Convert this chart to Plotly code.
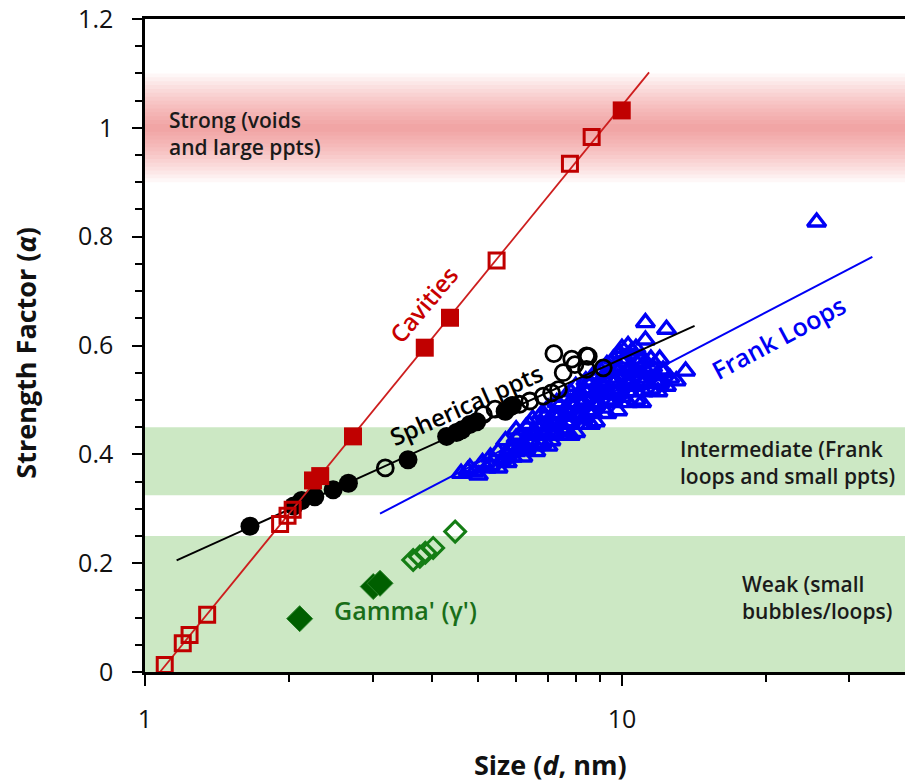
import plotly.graph_objects as go

# ---------------- data ----------------
cav_open_x = [1.10, 1.20, 1.24, 1.35, 1.92, 1.99, 2.04, 5.46, 7.78, 8.64]
cav_open_y = [0.013, 0.053, 0.068, 0.105, 0.272, 0.287, 0.298, 0.756, 0.934, 0.983]
cav_fill_x = [2.25, 2.33, 2.73, 3.86, 4.36, 9.99]
cav_fill_y = [0.352, 0.360, 0.433, 0.596, 0.651, 1.032]
cav_fit_x = [1.075, 11.4]
cav_fit_y = [0.0, 1.102]

sph_fill_x = [1.66, 2.05, 2.13, 2.27, 2.48, 2.67, 3.56, 4.29, 4.50, 4.62, 4.80, 4.96, 5.69, 5.85]
sph_fill_y = [0.268, 0.305, 0.315, 0.322, 0.335, 0.347, 0.390, 0.433, 0.440, 0.445, 0.455, 0.460, 0.479, 0.488]
sph_open_x = [3.19, 5.12, 5.42, 5.90, 6.10, 6.41, 6.84, 7.12, 7.36, 7.53, 7.85, 7.97, 8.43, 8.50, 9.14, 7.20, 8.43]
sph_open_y = [0.375, 0.473, 0.483, 0.490, 0.492, 0.498, 0.507, 0.513, 0.519, 0.550, 0.575, 0.565, 0.581, 0.580, 0.559, 0.585, 0.556]
sph_fit_x = [1.165, 14.2]
sph_fit_y = [0.205, 0.636]

frank_x = [4.6, 4.75, 4.9, 5.0,
           4.8, 5.2, 5.5,
           5.1, 5.3, 5.6, 5.75, 5.9,
           5.3, 5.75, 6.2,
           5.5, 5.8, 6.0, 6.3, 6.6,
           5.9, 6.2, 6.6, 7.0,
           5.7, 6.0, 6.2, 6.4, 6.8, 7.1,
           6.1, 6.5, 6.9, 7.4, 7.8,
           6.0, 6.3, 6.5, 6.7, 7.0, 7.2, 7.6, 8.0,
           6.4, 6.8, 7.2, 7.7, 8.2, 8.6,
           6.5, 6.9, 7.1, 7.3, 7.6, 7.8, 8.1, 8.3, 8.8,
           6.8, 7.2, 7.7, 8.2, 8.7, 9.3,
           7.0, 7.4, 7.7, 7.9, 8.2, 8.5, 8.8, 9.1, 9.8,
           7.3, 7.8, 8.3, 8.9, 9.6, 10.3, 11.0,
           7.6, 8.1, 8.4, 8.7, 9.0, 9.3, 9.7, 10.0, 10.7,
           7.8, 8.4, 9.0, 9.6, 10.3, 11.1, 11.9,
           8.0, 8.3, 8.6, 8.9, 9.2, 9.6, 9.9, 10.3, 10.6, 11.0, 11.5, 12.0, 12.4,
           8.4, 9.0, 9.7, 10.4, 11.2, 12.0, 13.0,
           8.7, 9.1, 9.4, 9.8, 10.1, 10.5, 10.9, 11.3, 11.8, 12.2, 12.6, 13.6,
           9.0, 9.7, 10.4, 11.2, 12.2,
           9.3, 9.6, 10.0, 10.4, 10.8, 11.2, 11.6, 12.0,
           9.6, 10.2, 10.9, 11.5,
           9.9, 10.5, 10.0, 10.7, 10.3, 11.2,
           11.2, 12.4,
           25.6]
frank_y = [0.365, 0.370, 0.368, 0.362,
           0.375, 0.375, 0.375,
           0.385, 0.380, 0.390, 0.385, 0.395,
           0.395, 0.400, 0.395,
           0.405, 0.410, 0.405, 0.410, 0.405,
           0.415, 0.415, 0.415, 0.415,
           0.425, 0.430, 0.420, 0.425, 0.420, 0.425,
           0.435, 0.435, 0.435, 0.435, 0.435,
           0.445, 0.450, 0.440, 0.445, 0.450, 0.440, 0.445, 0.440,
           0.455, 0.455, 0.455, 0.455, 0.455, 0.455,
           0.465, 0.470, 0.460, 0.465, 0.470, 0.460, 0.470, 0.465, 0.460,
           0.475, 0.475, 0.475, 0.475, 0.475, 0.475,
           0.485, 0.490, 0.480, 0.485, 0.490, 0.480, 0.490, 0.485, 0.480,
           0.495, 0.495, 0.495, 0.495, 0.495, 0.495, 0.495,
           0.505, 0.510, 0.500, 0.505, 0.510, 0.500, 0.510, 0.505, 0.500,
           0.515, 0.515, 0.515, 0.515, 0.515, 0.515, 0.515,
           0.525, 0.520, 0.530, 0.520, 0.525, 0.530, 0.520, 0.530, 0.525, 0.530, 0.520, 0.530, 0.525,
           0.535, 0.535, 0.535, 0.535, 0.535, 0.535, 0.535,
           0.545, 0.540, 0.550, 0.540, 0.545, 0.550, 0.540, 0.550, 0.545, 0.550, 0.540, 0.553,
           0.555, 0.555, 0.555, 0.555, 0.555,
           0.565, 0.560, 0.570, 0.560, 0.565, 0.570, 0.560, 0.575,
           0.575, 0.575, 0.575, 0.575,
           0.585, 0.590, 0.595, 0.595, 0.600, 0.610,
           0.642, 0.630,
           0.827]
frank_fit_x = [3.11, 33.5]
frank_fit_y = [0.291, 0.763]

gamma_fill_x = [2.11, 3.01, 3.11]
gamma_fill_y = [0.098, 0.157, 0.163]
gamma_open_x = [3.65, 3.77, 3.87, 4.02, 4.47]
gamma_open_y = [0.206, 0.212, 0.219, 0.228, 0.258]

strong_band = (1.0, 0.10)          # centre, half-width
intermediate_band = (0.325, 0.45)
weak_band = (0.0, 0.25)

y_ticks = [0, 0.2, 0.4, 0.6, 0.8, 1.0, 1.2]
y_ticktext = ["0", "0.2", "0.4", "0.6", "0.8", "1", "1.2"]
x_ticks = [1, 10]
x_ticktext = ["1", "10"]
x_minor = [2, 3, 4, 5, 6, 7, 8, 9, 20, 30]

FONT = "Open Sans"
RED = "rgb(192,0,0)"
RED_LINE = "rgb(205,30,30)"
BLUE = "rgb(0,0,245)"
GREEN_D = "rgb(0,95,0)"
GREEN = "rgb(20,125,20)"

fig = go.Figure()

# Frank loops
fig.add_trace(go.Scatter(x=frank_x, y=frank_y, mode="markers",
                         marker=dict(symbol="triangle-up-open", size=16, color=BLUE,
                                     line=dict(width=3.4, color=BLUE))))
fig.add_trace(go.Scatter(x=frank_fit_x, y=frank_fit_y, mode="lines",
                         line=dict(color=BLUE, width=2)))
# Spherical ppts
fig.add_trace(go.Scatter(x=sph_fit_x, y=sph_fit_y, mode="lines",
                         line=dict(color="black", width=2)))
fig.add_trace(go.Scatter(x=sph_open_x, y=sph_open_y, mode="markers",
                         marker=dict(symbol="circle-open", size=16, color="black",
                                     line=dict(width=2.8, color="black"))))
fig.add_trace(go.Scatter(x=sph_fill_x, y=sph_fill_y, mode="markers",
                         marker=dict(symbol="circle", size=19, color="black")))
# Cavities
fig.add_trace(go.Scatter(x=cav_fit_x, y=cav_fit_y, mode="lines",
                         line=dict(color=RED_LINE, width=1.8)))
fig.add_trace(go.Scatter(x=cav_open_x, y=cav_open_y, mode="markers",
                         marker=dict(symbol="square-open", size=15, color=RED,
                                     line=dict(width=3, color=RED))))
fig.add_trace(go.Scatter(x=cav_fill_x, y=cav_fill_y, mode="markers",
                         marker=dict(symbol="square", size=18, color=RED)))
# Gamma'
fig.add_trace(go.Scatter(x=gamma_fill_x, y=gamma_fill_y, mode="markers",
                         marker=dict(symbol="diamond", size=20, color=GREEN_D,
                                     line=dict(width=1, color="rgb(40,130,40)"))))
fig.add_trace(go.Scatter(x=gamma_open_x, y=gamma_open_y, mode="markers",
                         marker=dict(symbol="diamond-open", size=16, color=GREEN,
                                     line=dict(width=3, color=GREEN))))

# background bands
shapes = []
n_layers = 14
c, hw = strong_band
for i in range(n_layers):
    h = hw * (1 - i / n_layers)
    shapes.append(dict(type="rect", xref="paper", yref="y", x0=0, x1=1,
                       y0=c - h, y1=c + h, fillcolor="rgb(225,80,80)",
                       opacity=0.045, line=dict(width=0), layer="below"))
for lo, hi in (intermediate_band, weak_band):
    shapes.append(dict(type="rect", xref="paper", yref="y", x0=0, x1=1,
                       y0=lo, y1=hi, fillcolor="rgb(204,232,196)",
                       line=dict(width=0), layer="below"))

band_font = dict(family=FONT, size=21, color="#1a1a1a", weight=600)
annotations = [
    dict(text="Strong (voids<br>and large ppts)", x=0.046, y=0.99, xref="x", yref="y",
         xanchor="left", yanchor="middle", align="left", showarrow=False, font=band_font),
    dict(text="Intermediate (Frank<br>loops and small ppts)", x=1.117, y=0.385, xref="x", yref="y",
         xanchor="left", yanchor="middle", align="left", showarrow=False, font=band_font),
    dict(text="Weak (small<br>bubbles/loops)", x=1.247, y=0.136, xref="x", yref="y",
         xanchor="left", yanchor="middle", align="left", showarrow=False, font=band_font),
    dict(text="Cavities", x=0.583, y=0.676, xref="x", yref="y", textangle=-50,
         showarrow=False, font=dict(family=FONT, size=24, color="rgb(200,0,0)", weight=600)),
    dict(text="Spherical ppts", x=0.673, y=0.492, xref="x", yref="y", textangle=-24,
         showarrow=False, font=dict(family=FONT, size=24, color="black", weight=600)),
    dict(text="Frank Loops", x=1.329, y=0.615, xref="x", yref="y", textangle=-28,
         showarrow=False, font=dict(family=FONT, size=25, color=BLUE, weight=600)),
    dict(text="Gamma' (γ')", x=0.547, y=0.114, xref="x", yref="y",
         showarrow=False, font=dict(family=FONT, size=25, color="rgb(25,110,25)", weight=600)),
    dict(text="<b>Strength Factor (<i>α</i>)</b>", x=-0.1566, y=0.489, xref="paper", yref="paper",
         xanchor="center", yanchor="middle", textangle=-90, showarrow=False,
         font=dict(family=FONT, size=27, color="#111")),
    dict(text="<b>Size (<i>d</i>, nm)</b>", x=0.533, y=-0.141, xref="paper", yref="paper",
         xanchor="center", yanchor="middle", showarrow=False,
         font=dict(family=FONT, size=27, color="#111")),
]

fig.update_layout(
    width=905, height=782,
    margin=dict(l=145, r=0, t=19, b=110),
    paper_bgcolor="white", plot_bgcolor="white",
    showlegend=False,
    shapes=shapes, annotations=annotations,
    font=dict(family=FONT, color="#111"),
    xaxis=dict(type="log", range=[0, 1.5935], tickmode="array", tickvals=x_ticks,
               ticktext=x_ticktext, ticks="outside", ticklen=11, tickwidth=2,
               tickcolor="black", showline=True, linewidth=2.5, linecolor="black",
               mirror=True, showgrid=False, zeroline=False,
               tickfont=dict(family=FONT, size=25, color="#111", weight=500),
               ticklabelstandoff=12,
               minor=dict(tickmode="array", tickvals=x_minor, ticks="outside",
                          ticklen=7, tickwidth=2, tickcolor="black", showgrid=False)),
    yaxis=dict(range=[0, 1.2], tickmode="array", tickvals=y_ticks, ticktext=y_ticktext,
               ticks="outside", ticklen=10, tickwidth=2, tickcolor="black",
               showline=True, linewidth=2.5, linecolor="black", showgrid=False,
               zeroline=False, tickfont=dict(family=FONT, size=25, color="#111", weight=500),
               ticklabelstandoff=14,
               minor=dict(dtick=0.05, ticks="outside", ticklen=7, tickwidth=2,
                          tickcolor="black", showgrid=False)),
)

fig.write_html("out.html")
